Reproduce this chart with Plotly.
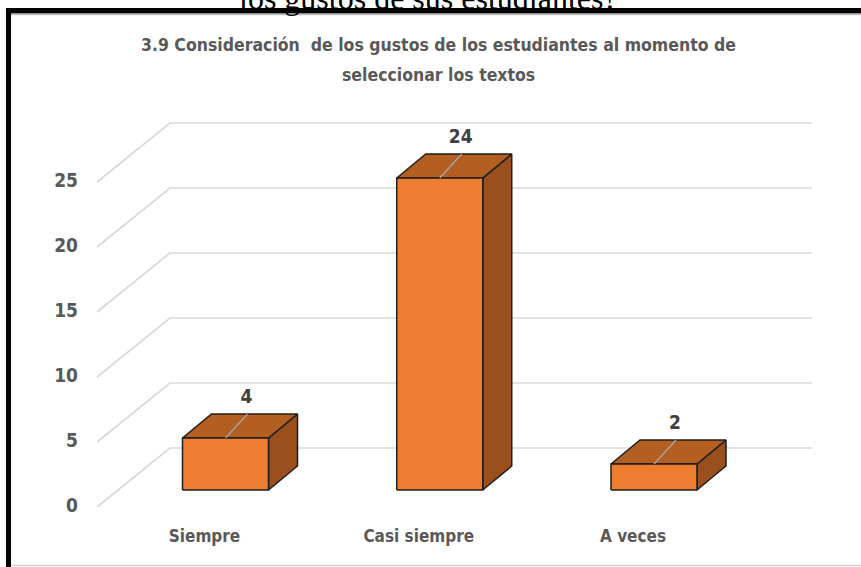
import plotly.graph_objects as go

# ---- data ----
categories = ["Siempre", "Casi siempre", "A veces"]
values = [4, 24, 2]
tick_values = [0, 5, 10, 15, 20, 25]
title_lines = ["3.9 Consideración  de los gustos de los estudiantes al momento de",
               "seleccionar los textos"]
heading = "los gustos de sus estudiantes?"

# ---- geometry of the pseudo-3D column chart ----
W, H = 861, 567
PX_X, PX_Y = 214.25, 13.0          # pixels per category step / per value unit
ORIGIN_X, ORIGIN_Y = 225.5, 490.0  # pixel of category 0, value 0 on the bars' front plane


def ux(px):
    return px / PX_X


def uy(px):
    return px / PX_Y


HALF_W = ux(43)
BAR_DX, BAR_DY = ux(29), uy(24)          # depth of each column
FRONT_DX, FRONT_DY = ux(-21), uy(-17)    # floor front edge relative to the bars
BACK_DX, BACK_DY = ux(52), uy(42)        # back wall relative to the bars
GRID_X_FRONT = ux(97 - ORIGIN_X)
GRID_X_RIGHT = ux(812 - ORIGIN_X)
TICK_X = ux(78 - ORIGIN_X)

FONT = "DejaVu Sans Condensed, Liberation Sans Narrow, Arial Narrow, sans-serif"
FRONT_COLOR = "#ED7D31"
TOP_COLOR = "#B45F22"
SIDE_COLOR = "#9A4F1D"
EDGE = dict(color="#1E1E1E", width=1.5)
GRID = dict(color="#D9D9D9", width=1.7)

fig = go.Figure()

# wall gridlines: diagonal on the side wall, then horizontal on the back wall
for v in tick_values:
    xf, yf = GRID_X_FRONT, v + FRONT_DY
    xb, yb = xf + (BACK_DX - FRONT_DX), v + BACK_DY
    fig.add_trace(go.Scatter(x=[xf, xb, GRID_X_RIGHT], y=[yf, yb, yb], mode="lines",
                             line=GRID, hoverinfo="skip"))

# value axis labels on the front edge of the side wall
fig.add_trace(go.Scatter(
    x=[TICK_X] * len(tick_values), y=[v + FRONT_DY for v in tick_values],
    mode="text", text=[str(v) for v in tick_values], textposition="middle left",
    textfont=dict(family=FONT, size=19, color="#595959", weight="bold"),
    hoverinfo="skip"))

# columns: side face, top face, front face
for i, v in enumerate(values):
    l, r = i - HALF_W, i + HALF_W
    fig.add_trace(go.Scatter(
        x=[r, r + BAR_DX, r + BAR_DX, r, r], y=[0, BAR_DY, v + BAR_DY, v, 0],
        fill="toself", fillcolor=SIDE_COLOR, mode="lines", line=EDGE, hoverinfo="skip"))
    fig.add_trace(go.Scatter(
        x=[l, r, r + BAR_DX, l + BAR_DX, l], y=[v, v, v + BAR_DY, v + BAR_DY, v],
        fill="toself", fillcolor=TOP_COLOR, mode="lines", line=EDGE, hoverinfo="skip"))
    fig.add_trace(go.Scatter(
        x=[l, r, r, l, l], y=[0, 0, v, v, 0],
        fill="toself", fillcolor=FRONT_COLOR, mode="lines", line=EDGE,
        hovertemplate=f"{categories[i]}: {v}<extra></extra>"))
    # leader line across the top face to the value label
    fig.add_trace(go.Scatter(
        x=[i, i + ux(22)], y=[v, v + BAR_DY], mode="lines",
        line=dict(color="#A8A8A8", width=1.2), hoverinfo="skip"))

# value labels above each column
fig.add_trace(go.Scatter(
    x=[i + ux(21) for i in range(len(values))], y=[v + BAR_DY + uy(16) for v in values],
    mode="text", text=[str(v) for v in values], textposition="middle center",
    textfont=dict(family=FONT, size=19, color="#404040", weight="bold"),
    hoverinfo="skip"))

# category labels under the floor
fig.add_trace(go.Scatter(
    x=[i + FRONT_DX for i in range(len(categories))],
    y=[FRONT_DY - uy(31)] * len(categories),
    mode="text", text=categories, textposition="middle center",
    textfont=dict(family=FONT, size=17, color="#595959", weight="bold"),
    hoverinfo="skip"))


def py(px):
    return 1 - px / H


def pxp(px):
    return px / W


annotations = [
    dict(text=heading, x=pxp(428), y=py(-2), xref="paper", yref="paper",
         xanchor="center", yanchor="middle", showarrow=False,
         font=dict(family="Liberation Serif, Times New Roman, serif", size=32, color="#000000")),
    dict(text=title_lines[0], x=pxp(438), y=py(45), xref="paper", yref="paper",
         xanchor="center", yanchor="middle", showarrow=False,
         font=dict(family=FONT, size=17.5, color="#595959", weight="bold")),
    dict(text=title_lines[1], x=pxp(438), y=py(75), xref="paper", yref="paper",
         xanchor="center", yanchor="middle", showarrow=False,
         font=dict(family=FONT, size=17.5, color="#595959", weight="bold")),
]

shapes = [
    # document frame around the chart
    dict(type="rect", xref="paper", yref="paper", x0=pxp(6), x1=pxp(11), y0=py(H + 5), y1=py(8),
         fillcolor="#000000", line=dict(width=0), layer="above"),
    dict(type="rect", xref="paper", yref="paper", x0=pxp(6), x1=pxp(W + 5), y0=py(13.5), y1=py(8),
         fillcolor="#000000", line=dict(width=0), layer="above"),
    # chart area border
    dict(type="line", xref="paper", yref="paper", x0=pxp(11), x1=1, y0=py(14.5), y1=py(14.5),
         line=dict(color="#BFBFBF", width=1.5)),
    dict(type="line", xref="paper", yref="paper", x0=pxp(11), x1=1, y0=py(565.5), y1=py(565.5),
         line=dict(color="#D0D0D0", width=1.5)),
]

fig.update_layout(
    width=W, height=H, autosize=False,
    margin=dict(l=0, r=0, t=0, b=0),
    paper_bgcolor="white", plot_bgcolor="white",
    showlegend=False,
    xaxis=dict(visible=False, range=[-ORIGIN_X / PX_X, (W - ORIGIN_X) / PX_X], fixedrange=True),
    yaxis=dict(visible=False, range=[-(H - ORIGIN_Y) / PX_Y, ORIGIN_Y / PX_Y], fixedrange=True),
    annotations=annotations,
    shapes=shapes,
)

fig.write_html("out.html")
